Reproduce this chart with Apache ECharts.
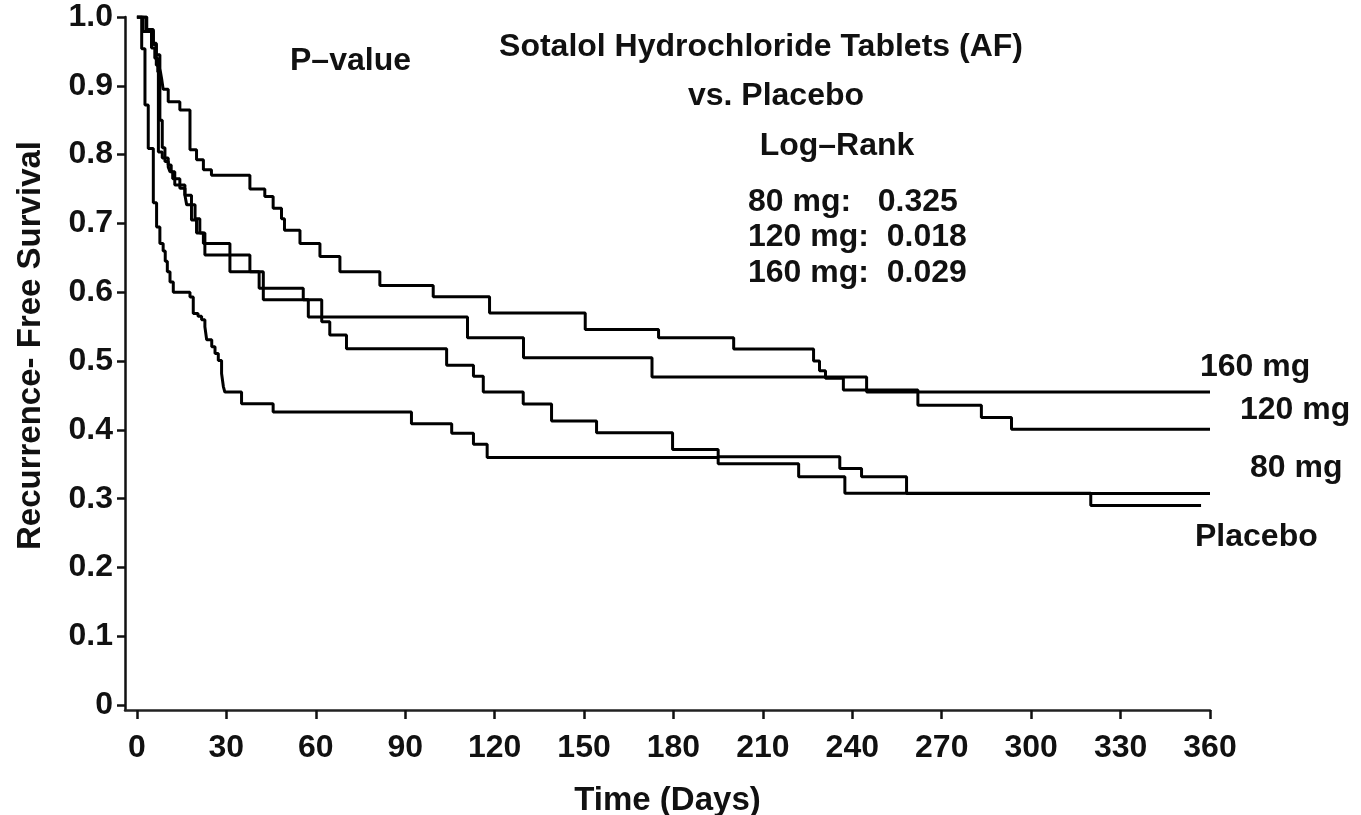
<!DOCTYPE html>
<html><head><meta charset="utf-8">
<script src="https://cdn.jsdelivr.net/npm/echarts@6/dist/echarts.min.js"></script>
<style>html,body{margin:0;padding:0;background:#fff}#c{width:1361px;height:815px}</style>
</head><body><div id="c"></div>
<script>
// ---- data ----
const xTicks = [0, 30, 60, 90, 120, 150, 180, 210, 240, 270, 300, 330, 360];
const yTicks = [0, 0.1, 0.2, 0.3, 0.4, 0.5, 0.6, 0.7, 0.8, 0.9, 1.0];

const placeboDays = [0, 1.6, 2.7, 3.8, 5.5, 6.6, 7.7, 8.8, 9.5, 10.2, 11.1, 12.2, 17.8, 18.9, 20.5, 21.7, 22.8, 23.4, 25.1, 26.2, 27.3, 28.4, 29.0, 29.5, 35.1, 45.7, 92.1, 105.6, 112.9, 117.5, 195.0, 222.0, 237.5, 320.0, 357];
const placeboSurv = [1.0, 0.954, 0.872, 0.809, 0.73, 0.695, 0.671, 0.660, 0.645, 0.630, 0.615, 0.600, 0.593, 0.569, 0.565, 0.560, 0.550, 0.531, 0.521, 0.511, 0.501, 0.482, 0.463, 0.455, 0.438, 0.426, 0.409, 0.395, 0.379, 0.360, 0.351, 0.332, 0.308, 0.290, 0.290];

const mg80Days = [0, 3.2, 5.5, 6.5, 7.2, 8.5, 9.4, 10.5, 11.1, 12.0, 12.7, 16.1, 16.7, 19.5, 21.1, 22.8, 31.2, 41.0, 55.8, 62.0, 64.7, 70.3, 103.9, 112.9, 116.2, 129.6, 139.1, 154.2, 179.7, 195.0, 235.8, 243.1, 258.2, 360];
const mg80Surv = [1.0, 0.980, 0.960, 0.930, 0.804, 0.795, 0.790, 0.782, 0.775, 0.765, 0.756, 0.741, 0.727, 0.707, 0.686, 0.654, 0.630, 0.606, 0.589, 0.557, 0.538, 0.518, 0.494, 0.478, 0.455, 0.4375, 0.413, 0.396, 0.3715, 0.361, 0.344, 0.332, 0.3076, 0.3076];

const mg120Days = [0, 3.3, 5.5, 6.5, 7.7, 8.3, 8.8, 10.5, 14.4, 17.8, 20.0, 22.3, 25.0, 37.9, 42.9, 45.7, 48.5, 49.5, 54.7, 61.4, 68.1, 81.5, 99.4, 118.3, 150.4, 175.0, 200.2, 227.0, 229.0, 231.0, 237.0, 262.0, 283.3, 293.4, 360];
const mg120Surv = [1.0, 0.982, 0.962, 0.945, 0.925, 0.910, 0.895, 0.877, 0.865, 0.807, 0.7925, 0.778, 0.770, 0.750, 0.739, 0.722, 0.707, 0.690, 0.671, 0.652, 0.630, 0.610, 0.5935, 0.570, 0.546, 0.534, 0.5175, 0.500, 0.486, 0.475, 0.458, 0.436, 0.418, 0.401, 0.401];

const mg160Days = [0, 2.1, 4.9, 6.0, 7.0, 7.7, 8.5, 9.4, 10.5, 11.5, 12.7, 14.4, 16.1, 18.3, 20.0, 22.3, 31.2, 37.9, 42.4, 57.5, 110.9, 129.7, 172.8, 244.8, 360];
const mg160Surv = [1.0, 0.979, 0.955, 0.940, 0.920, 0.850, 0.810, 0.795, 0.785, 0.775, 0.765, 0.751, 0.741, 0.705, 0.686, 0.671, 0.654, 0.630, 0.589, 0.564, 0.534, 0.505, 0.477, 0.455, 0.455];

const seriesNames = ['160 mg', '120 mg', '80 mg', 'Placebo'];
const titleLines = ['Sotalol Hydrochloride Tablets (AF)', 'vs. Placebo'];
const pLabel = 'P\u2013value';
const testLabel = 'Log\u2013Rank';
const pValueLines = ['80 mg:   0.325', '120 mg:  0.018', '160 mg:  0.029'];
const xName = 'Time (Days)';
const yName = 'Recurrence- Free Survival';

// ---- build ----
const FONT = '"Liberation Sans", Arial, sans-serif';
const pairs = (d, s) => d.map((t, i) => [t, s[i]]);
const allDays = [mg160Days, mg120Days, mg80Days, placeboDays];
const allSurv = [mg160Surv, mg120Surv, mg80Surv, placeboSurv];

const series = seriesNames.map((n, i) => ({
  name: n, type: 'line', step: 'end', symbol: 'none',
  data: pairs(allDays[i], allSurv[i]),
  lineStyle: { color: '#000', width: 3 },
  silent: true
}));

function txt(text, x, y, align, size) {
  return { type: 'text', x: x, y: y, silent: true,
    style: { text: text, font: 'bold ' + (size || 32) + 'px ' + FONT, fill: '#111',
      textAlign: align || 'left', textVerticalAlign: 'middle' } };
}

const graphics = [
  txt(pLabel, 290, 61, 'left'),
  txt(titleLines[0], 761, 47, 'center'),
  txt(titleLines[1], 776, 96, 'center'),
  txt(testLabel, 837, 146, 'center'),
  txt(pValueLines[0], 748, 202, 'left'),
  txt(pValueLines[1], 748, 237, 'left'),
  txt(pValueLines[2], 748, 273, 'left'),
  txt(seriesNames[0], 1200, 367, 'left'),
  txt(seriesNames[1], 1240, 410, 'left'),
  txt(seriesNames[2], 1250, 468, 'left'),
  txt(seriesNames[3], 1195, 537, 'left')
];

const chart = echarts.init(document.getElementById('c'), null, { renderer: 'canvas' });
chart.setOption({
  animation: false,
  backgroundColor: '#fff',
  grid: { left: 125, right: 151, top: 17, bottom: 105, containLabel: false, outerBoundsMode: 'none' },
  xAxis: {
    type: 'value', min: -4, max: 360,
    name: xName, nameLocation: 'middle', nameGap: 74,
    nameTextStyle: { fontFamily: FONT, fontWeight: 'bold', fontSize: 33, color: '#111' },
    axisLine: { show: true, onZero: false, lineStyle: { color: '#222', width: 2.5 } },
    axisTick: { show: true, customValues: xTicks, length: 9, inside: false, lineStyle: { color: '#111', width: 2.5 } },
    axisLabel: { customValues: xTicks, margin: 22, fontFamily: FONT, fontWeight: 'bold', fontSize: 32, color: '#111' },
    splitLine: { show: false }
  },
  yAxis: {
    type: 'value', min: -0.007, max: 1.0,
    name: yName, nameLocation: 'middle', nameGap: 78,
    nameTextStyle: { fontFamily: FONT, fontWeight: 'bold', fontSize: 33, color: '#111', padding: [0, 0, 0, 36] },
    axisLine: { show: true, onZero: false, lineStyle: { color: '#111', width: 2.5 } },
    axisTick: { show: true, customValues: yTicks, length: 8, inside: false, lineStyle: { color: '#111', width: 2.5 } },
    axisLabel: { customValues: yTicks, margin: 12, fontFamily: FONT, fontWeight: 'bold', fontSize: 32, color: '#111',
      formatter: v => (Math.abs(v) < 1e-9 ? '0' : Number(v).toFixed(1)) },
    splitLine: { show: false }
  },
  series: series,
  graphic: graphics
});
</script>
</body></html>
